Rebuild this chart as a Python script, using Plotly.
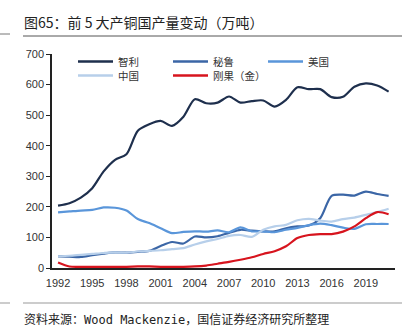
import plotly.graph_objects as go

years = list(range(1992, 2022))
chile = [204, 212, 230, 261, 316, 354, 372, 449, 470, 481, 465, 495, 552, 539, 541, 561, 541, 546, 548, 528, 550, 591, 585, 585, 559, 560, 593, 604, 597, 577]
peru = [38, 37, 36, 42, 47, 51, 50, 53, 56, 72, 85, 80, 103, 100, 104, 115, 125, 122, 120, 120, 130, 136, 139, 163, 236, 240, 237, 250, 242, 236]
usa = [182, 185, 188, 190, 198, 197, 188, 160, 147, 130, 114, 118, 120, 119, 123, 117, 133, 120, 120, 117, 125, 131, 140, 145, 140, 132, 128, 143, 144, 144]
china = [38, 40, 43, 46, 49, 51, 50, 54, 56, 58, 62, 65, 77, 87, 95, 105, 108, 102, 125, 136, 141, 156, 161, 155, 152, 160, 165, 174, 183, 194]
drc = [18, 5, 4, 4, 4, 4, 4, 5, 5, 4, 4, 4, 5, 8, 14, 20, 27, 35, 46, 55, 71, 98, 108, 111, 111, 119, 136, 163, 183, 176]

names = ["智利", "秘鲁", "美国", "中国", "刚果（金）"]
series = [chile, peru, usa, china, drc]
colors = ["#1E2F4D", "#3B66A6", "#5A96DA", "#B7CFEA", "#D7141E"]
xticks = [1992, 1995, 1998, 2001, 2004, 2007, 2010, 2013, 2016, 2019]

W, H = 412, 335
L, R, T, B = 52, 17, 54, 67
PW, PH = W - L - R, H - T - B

def px(x):
    return (x - L) / PW

def py(y):
    return (H - B - y) / PH

fig = go.Figure()
for n, s, c in zip(names, series, colors):
    fig.add_trace(go.Scatter(x=years, y=s, mode="lines", name=n,
                             line=dict(color=c, width=2.2, shape="spline", smoothing=0.8)))

shapes = []
annotations = []
# legend (manual)
leg_pos = [(78, 61.5), (173, 61.5), (268, 61.5), (78, 75.5), (173, 75.5)]
for (lx, ly), n, c in zip(leg_pos, names, colors):
    shapes.append(dict(type="line", xref="paper", yref="paper", x0=px(lx), x1=px(lx + 35),
                       y0=py(ly), y1=py(ly), line=dict(color=c, width=2.5)))
    annotations.append(dict(xref="paper", yref="paper", x=px(lx + 38), y=py(ly), text=n,
                            showarrow=False, xanchor="left", yanchor="middle",
                            font=dict(family="Noto Sans CJK SC", size=10.5, color="#333333")))
# title and rules
annotations.append(dict(xref="paper", yref="paper", x=px(22), y=py(22), text="图65：前 5 大产铜国产量变动（万吨）",
                        showarrow=False, xanchor="left", yanchor="middle",
                        font=dict(family="Noto Sans CJK SC", size=14, color="#222222")))
annotations.append(dict(xref="paper", yref="paper", x=px(22), y=py(318),
                        text="资料来源：<span style=\"font-family:'DejaVu Sans Mono'\">Wood Mackenzie</span>，国信证券经济研究所整理",
                        showarrow=False, xanchor="left", yanchor="middle",
                        font=dict(family="Noto Sans CJK SC", size=12, color="#222222")))
shapes.append(dict(type="line", xref="paper", yref="paper", x0=px(23), x1=px(402), y0=py(36), y1=py(36),
                   line=dict(color="#555555", width=1)))
shapes.append(dict(type="line", xref="paper", yref="paper", x0=px(23), x1=px(402), y0=py(303), y1=py(303),
                   line=dict(color="#999999", width=1)))
shapes.append(dict(type="line", xref="paper", yref="paper", x0=px(0), x1=px(10), y0=py(34), y1=py(34),
                   line=dict(color="#777777", width=1)))
shapes.append(dict(type="line", xref="paper", yref="paper", x0=px(0), x1=px(10), y0=py(303), y1=py(303),
                   line=dict(color="#999999", width=1)))

fig.update_layout(
    width=W, height=H, margin=dict(l=L, r=R, t=T, b=B),
    paper_bgcolor="white", plot_bgcolor="white", showlegend=False,
    shapes=shapes, annotations=annotations,
    font=dict(family="Liberation Sans, Arial", size=11, color="#333333"),
)
fig.update_xaxes(range=[1991.47, 2021.56], tickvals=xticks, showgrid=False, zeroline=False,
                 showline=True, linecolor="#222222", linewidth=1.5, ticks="", ticklabelstandoff=4,
                 tickfont=dict(size=11, color="#333333"))
fig.update_yaxes(range=[0, 700], dtick=100, showgrid=False, zeroline=False,
                 showline=True, linecolor="#222222", linewidth=1.5, ticks="outside", ticklen=4,
                 tickcolor="#222222", tickfont=dict(size=11, color="#333333"))
fig.write_html("out.html")
